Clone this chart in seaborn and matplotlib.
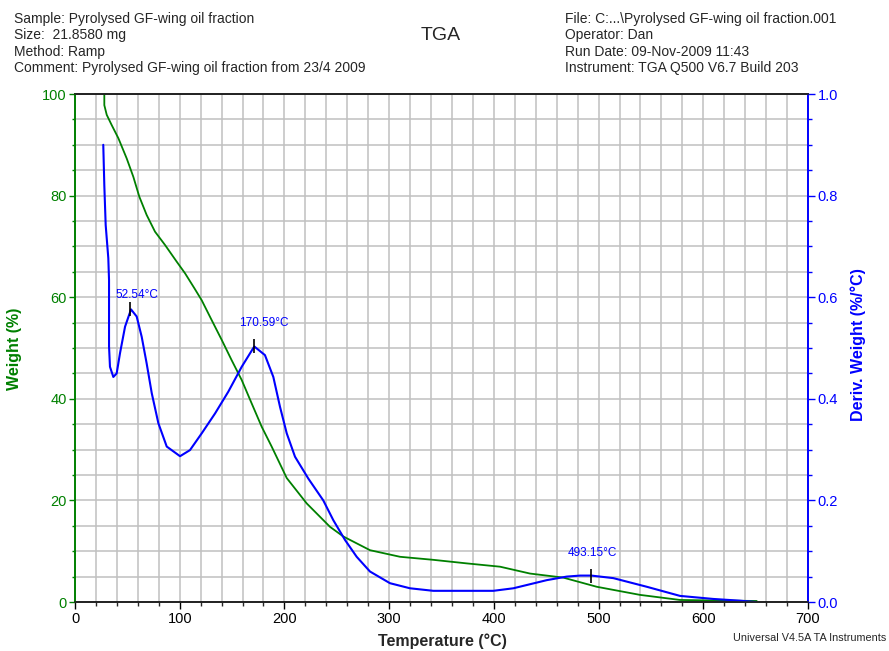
import numpy as np
import pandas as pd
import matplotlib
matplotlib.use("Agg")
import matplotlib.pyplot as plt
import seaborn as sns

# Weight (%) vs temperature
weight_temp = [28.0, 28.0, 30.3, 35.0, 41.4, 49.4, 55.7, 61.4, 68.4, 76.4, 85.9,
               97.1, 105.1, 113.9, 121.0, 130.5, 140.1, 149.6, 159.2, 168.7, 178.3,
               187.8, 202.2, 221.3, 243.5, 256.2, 281.7, 310.4, 342.2, 374.1, 405.9,
               434.5, 466.3, 498.2, 539.6, 577.8, 610.0, 651.0]
weight_pct = [100.0, 97.8, 95.9, 93.9, 91.3, 87.3, 83.7, 79.8, 76.2, 72.9, 70.3,
              67.0, 64.7, 61.8, 59.4, 55.5, 51.6, 47.6, 43.7, 39.1, 34.5,
              30.6, 24.4, 19.4, 14.8, 12.9, 10.2, 8.9, 8.3, 7.6, 6.95,
              5.6, 4.8, 3.0, 1.4, 0.4, 0.3, 0.2]

# Derivative weight (%/°C)
deriv_temp = [27.0, 28.0, 29.3, 31.8, 32.5, 32.5, 33.4, 36.6, 39.8, 43.0, 47.8,
              53.5, 58.9, 63.7, 68.4, 73.3, 79.6, 87.6, 100.3, 109.8, 121.0,
              133.7, 146.4, 159.2, 171.2, 181.4, 189.4, 195.8, 202.2, 210.1, 222.8,
              237.1, 246.7, 257.9, 269.0, 281.7, 300.8, 319.9, 342.2, 399.5, 418.6,
              450.5, 469.6, 482.3, 493.15, 514.1, 546.0, 577.8, 609.6, 635.0, 650.0]
deriv_val = [0.90, 0.82, 0.742, 0.677, 0.634, 0.503, 0.463, 0.443, 0.450, 0.490, 0.542,
             0.576, 0.562, 0.522, 0.470, 0.411, 0.352, 0.306, 0.287, 0.299, 0.332,
             0.371, 0.414, 0.463, 0.503, 0.486, 0.443, 0.384, 0.332, 0.286, 0.243,
             0.20, 0.161, 0.122, 0.089, 0.06, 0.037, 0.027, 0.022, 0.022, 0.027,
             0.043, 0.05, 0.052, 0.052, 0.047, 0.03, 0.012, 0.006, 0.0026, 0.0]

peak_temps = [52.54, 170.59, 493.15]
peak_vals = [0.576, 0.503, 0.052]
peak_labels = ["52.54°C", "170.59°C", "493.15°C"]
label_offsets = [(4.7, 10.7), (7.5, 17.0), (1.0, 16.3)]

header_left = ["Sample: Pyrolysed GF-wing oil fraction",
               "Size:  21.8580 mg",
               "Method: Ramp",
               "Comment: Pyrolysed GF-wing oil fraction from 23/4 2009"]
header_right = ["File: C:...\\Pyrolysed GF-wing oil fraction.001",
                "Operator: Dan",
                "Run Date: 09-Nov-2009 11:43",
                "Instrument: TGA Q500 V6.7 Build 203"]

GREEN = "#008000"
BLUE = "#0000ff"

sns.set_style("white")
plt.rcParams['font.family'] = ['Liberation Sans', 'DejaVu Sans']

df_w = pd.DataFrame({'temp': weight_temp, 'weight': weight_pct})
df_d = pd.DataFrame({'temp': deriv_temp, 'deriv': deriv_val})

fig = plt.figure(figsize=(8.89, 6.51), dpi=100)
ax = fig.add_axes([75 / 889, 1 - 602 / 651, 733 / 889, 508 / 651])
ax2 = ax.twinx()

sns.lineplot(data=df_w, x='temp', y='weight', color=GREEN, linewidth=1.3,
             estimator=None, sort=False, ax=ax)
sns.lineplot(data=df_d, x='temp', y='deriv', color=BLUE, linewidth=1.5,
             estimator=None, sort=False, ax=ax2)

ax.set_xlim(0, 700)
ax.set_ylim(0, 100)
ax2.set_ylim(0, 1.0)

ax.set_xticks(np.arange(0, 701, 100))
ax.set_xticks(np.arange(0, 701, 20), minor=True)
ax.set_yticks(np.arange(0, 101, 20))
ax.set_yticks(np.arange(0, 101, 5), minor=True)
ax2.set_yticks(np.arange(0, 1.01, 0.2))
ax2.set_yticks(np.arange(0, 1.01, 0.05), minor=True)
ax2.set_yticklabels([f"{v:.1f}" for v in np.arange(0, 1.01, 0.2)])

ax.grid(which='both', color='#c0c0c0', linewidth=1.1)
ax.set_axisbelow(True)

ax.tick_params(axis='x', which='major', direction='out', length=5, width=1,
               colors='black', labelsize=10.5, pad=2, bottom=True)
ax.tick_params(axis='x', which='minor', direction='out', length=3, width=1,
               bottom=True)
ax.tick_params(axis='y', which='major', direction='out', length=4, width=1,
               color=GREEN, labelcolor=GREEN, labelsize=10.5, left=True, pad=2)
ax.tick_params(axis='y', which='minor', direction='out', length=2.5, width=1,
               color=GREEN, left=True)
ax2.tick_params(axis='y', which='major', direction='out', length=5, width=1,
                color=BLUE, labelcolor=BLUE, labelsize=10.5, right=True, pad=2)
ax2.tick_params(axis='y', which='minor', direction='out', length=3, width=1,
                color=BLUE, right=True)

for a in (ax, ax2):
    for s in a.spines.values():
        s.set_linewidth(1.2)
ax.spines['left'].set_color(GREEN)
ax2.spines['left'].set_color(GREEN)
ax2.spines['right'].set_color(BLUE)
ax.spines['right'].set_color(BLUE)
ax.spines['top'].set_color('black')
ax.spines['bottom'].set_color('black')

ax.set_xlabel('')
ax.set_ylabel('')
ax2.set_ylabel('')

# peak markers and labels
for t, v, lab, off in zip(peak_temps, peak_vals, peak_labels, label_offsets):
    ax2.plot([t], [v], marker='|', color='black', markersize=10, markeredgewidth=1.2)
    ax2.annotate(lab, (t, v), xytext=off, textcoords='offset points',
                 ha='center', va='center', color=BLUE, fontsize=8.5)

# header
for i, line in enumerate(header_left):
    fig.text(14 / 889, 1 - (19 + 16.3 * i) / 651, line, ha='left', va='center', fontsize=10)
for i, line in enumerate(header_right):
    fig.text(565 / 889, 1 - (19 + 16.3 * i) / 651, line, ha='left', va='center', fontsize=10)
fig.text(441 / 889, 1 - 35 / 651, 'TGA', ha='center', va='center', fontsize=14)

# axis labels
fig.text(15 / 889, 1 - 349 / 651, 'Weight (%)', rotation=90, ha='center', va='center',
         color=GREEN, fontsize=11.5, fontweight='bold')
fig.text(858 / 889, 1 - 345 / 651, 'Deriv. Weight (%/°C)', rotation=90, ha='center',
         va='center', color=BLUE, fontsize=11.5, fontweight='bold')
fig.text(442 / 889, 1 - 641 / 651, 'Temperature (°C)', ha='center', va='center',
         fontsize=11.5, fontweight='bold')
fig.text(886 / 889, 1 - 638 / 651, 'Universal V4.5A TA Instruments', ha='right',
         va='center', fontsize=7.8)

fig.savefig('out.png', dpi=100)
